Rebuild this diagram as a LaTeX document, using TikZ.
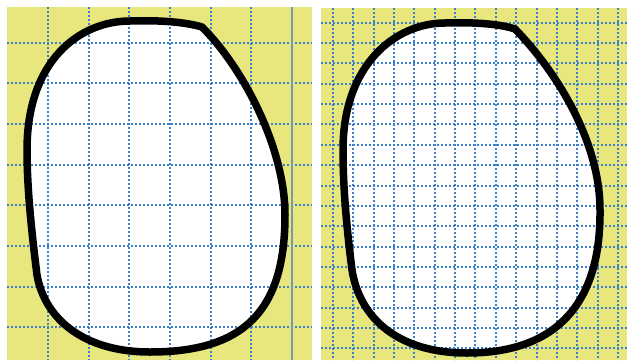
\documentclass[tikz,border=0pt]{standalone}
\definecolor{paper}{RGB}{232,231,125}
\definecolor{gridblue}{RGB}{60,128,204}
\definecolor{rulegray}{RGB}{118,152,182}
\tikzset{
  dotgrid/.style={gridblue, line width=2pt, dash pattern=on 2pt off 2pt},
  blobline/.style={black, line width=7.5pt, line join=round},
}

\begin{document}
\begin{tikzpicture}[x=1pt,y=-1pt]
  \useasboundingbox (0,0) rectangle (627,360);
  \fill[paper] (7,7) rectangle (312,360);   % left sheet
  \fill[paper] (321,8) rectangle (627,360); % right sheet

  \path[save path=\leftblob] (202,27) .. controls (245,70) and (285,150) .. (285,215)
    .. controls (285,310) and (245,352) .. (150,352)
    .. controls (85,352) and (45,320) .. (37,275)
    .. controls (32,235) and (27,190) .. (27,150)
    .. controls (27,60) and (80,21) .. (130,21)
    .. controls (160,20) and (185,22) .. cycle;
  \path[save path=\rightblob] (515,29) .. controls (555,70) and (600,140) .. (600,210)
    .. controls (601,305) and (555,353) .. (467,353)
    .. controls (400,353) and (360,320) .. (352,270)
    .. controls (347,230) and (343,190) .. (343,150)
    .. controls (343,65) and (395,23) .. (445,23)
    .. controls (475,22) and (500,24) .. cycle;
  \fill[white, use path=\leftblob];
  \fill[white, use path=\rightblob];

  % coarse grid (left)
  \foreach \k in {0,...,7} \draw[dotgrid] (7,{round(42.5+40.7*\k)}) -- (312,{round(42.5+40.7*\k)});
  \foreach \k in {0,...,5} \draw[dotgrid] ({round(48+40.7*\k)},7) -- ({round(48+40.7*\k)},360);
  \draw[rulegray, line width=2pt] (292,7) -- (292,360); % margin line

  % fine grid (right)
  \foreach \k in {0,...,16} \draw[dotgrid] (321,{round(22.7+20.35*\k)}) -- (627,{round(22.7+20.35*\k)});
  \foreach \k in {0,...,14} \draw[dotgrid] ({round(333+20.35*\k)},8) -- ({round(333+20.35*\k)},360);

  \draw[blobline, use path=\leftblob];
  \draw[blobline, use path=\rightblob];
\end{tikzpicture}
\end{document}
